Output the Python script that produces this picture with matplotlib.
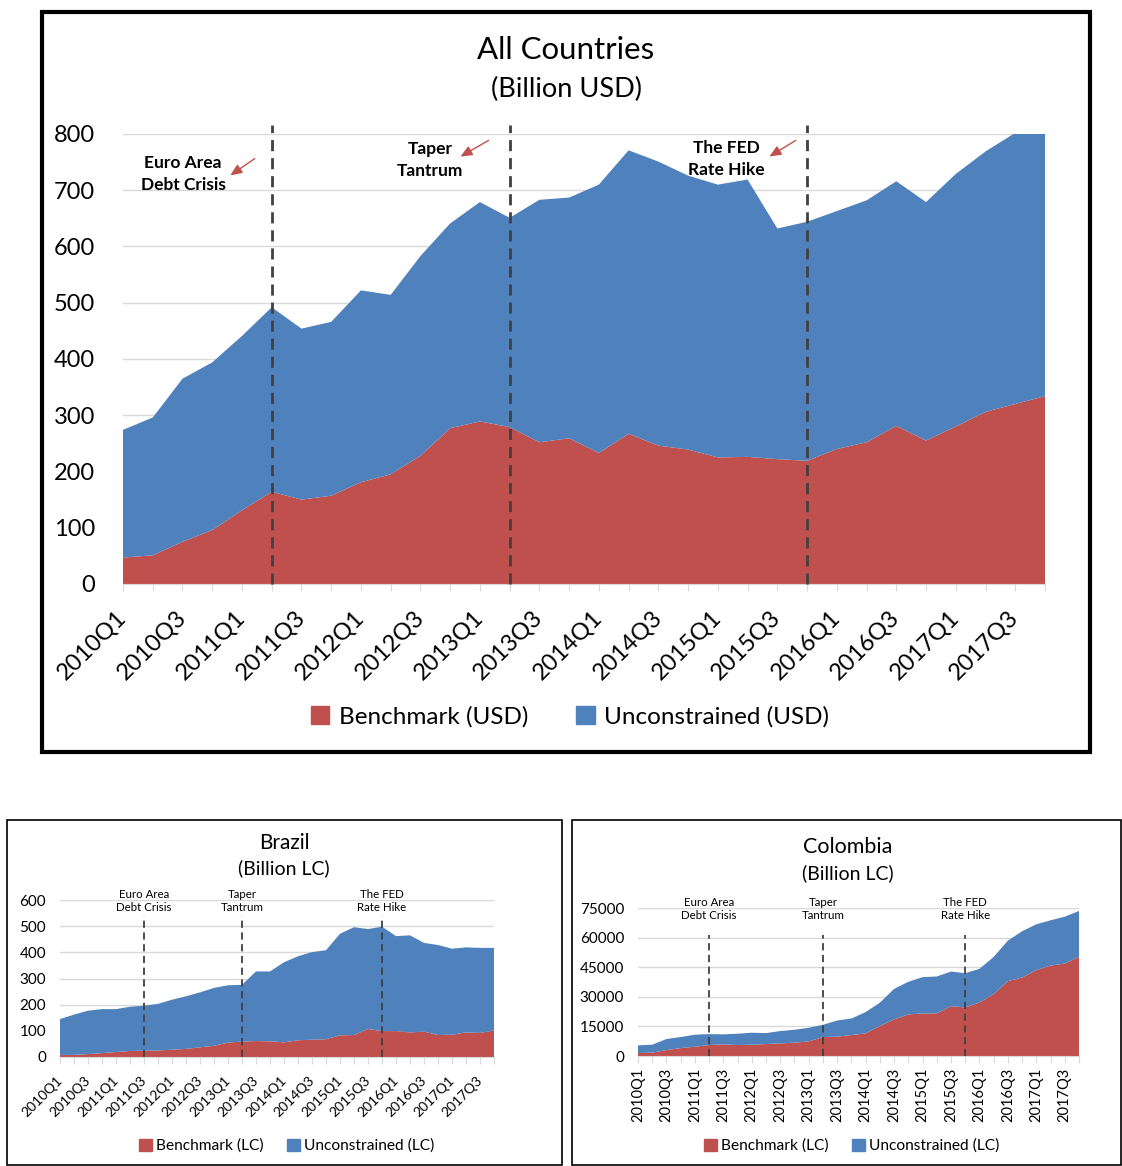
import numpy as np
import matplotlib
matplotlib.use("Agg")
import matplotlib.pyplot as plt
from matplotlib.patches import Rectangle, Patch

plt.rcParams['font.family'] = ['Lato', 'DejaVu Sans']

W, H = 1122, 1166

# quarters 2010Q1 .. 2017Q4
quarters = ['%dQ%d' % (y, q) for y in range(2010, 2018) for q in range(1, 5)]

# All countries, billion USD
all_bench = [47, 51, 75, 96, 131, 164, 150, 157, 181, 195, 228, 277, 289, 279, 252, 259,
             233, 267, 246, 239, 225, 226, 222, 219, 240, 252, 281, 255, 280, 306, 320, 334]
all_uncon = [227, 245, 290, 298, 310, 328, 304, 309, 341, 319, 355, 364, 390, 372, 431, 428,
             477, 504, 505, 487, 485, 493, 410, 425, 423, 430, 435, 424, 449, 463, 482, 481]

# Brazil, billion LC
bra_bench = [8, 8, 11, 15, 19, 23, 24, 25, 28, 31, 37, 43, 55, 59, 61, 60,
             56, 64, 66, 68, 83, 84, 107, 99, 99, 94, 97, 84, 85, 94, 92, 101]
bra_total = [145, 162, 177, 183, 183, 192, 196, 203, 219, 232, 247, 264, 274, 276, 327, 327,
             362, 385, 401, 408, 471, 496, 489, 498, 462, 465, 436, 428, 414, 419, 417, 417]
bra_uncon = [t - b for t, b in zip(bra_total, bra_bench)]

# Colombia, billion LC
col_bench = [1500, 1700, 3000, 4000, 4700, 5560, 5900, 5560, 5730, 6070, 6400, 6740, 7400, 9600, 9800, 10600,
             11460, 15170, 18540, 21070, 21570, 21570, 25280, 24600, 27130, 31350, 37920, 39780, 43480, 45840, 46850, 50220]
col_total = [5400, 5730, 8600, 9600, 10800, 11100, 10950, 11300, 11800, 11600, 12640, 13300, 14300, 15800, 18000, 19000,
             22250, 27000, 34000, 37600, 39950, 40300, 42800, 41970, 44160, 50200, 58480, 63200, 66740, 68760, 70600, 73480]
col_uncon = [t - b for t, b in zip(col_total, col_bench)]

# event markers (category index) and labels
events = ['Euro Area\nDebt Crisis', 'Taper\nTantrum', 'The FED\nRate Hike']
all_events = [5, 13, 23]
bra_events = [6, 13, 23]
col_events = [5, 13, 23]

RED = '#C0504D'
BLUE = '#4F81BD'
GRID = '#D9D9D9'

fig = plt.figure(figsize=(W / 100, H / 100), dpi=100)


def px_axes(x0, y0, x1, y1):
    return fig.add_axes([x0 / W, 1 - y1 / H, (x1 - x0) / W, (y1 - y0) / H])


def fx(x):
    return x / W


def fy(y):
    return 1 - y / H


def box(x0, y0, x1, y1, lw):
    fig.patches.append(Rectangle((fx(x0), fy(y1)), fx(x1 - x0), (y1 - y0) / H,
                                 transform=fig.transFigure, fill=False,
                                 edgecolor='black', lw=lw, zorder=0))


def area_chart(ax, bench, uncon, ymax, ystep, ytick_fs, xtick_fs, rot, ev_idx, ev_top, ev_lw, ypad):
    x = np.arange(len(quarters))
    ax.stackplot(x, bench, uncon, colors=[RED, BLUE], zorder=2)
    ax.set_xlim(0, len(quarters) - 1)
    ax.set_ylim(0, ymax)
    ax.set_yticks(np.arange(0, ymax + 1, ystep))
    ax.yaxis.grid(True, color=GRID, lw=1, zorder=0)
    ax.set_axisbelow(True)
    for s in ['top', 'right', 'left']:
        ax.spines[s].set_visible(False)
    ax.spines['bottom'].set_color(GRID)
    ax.set_xticks(x)
    ax.set_xticklabels([q if i % 2 == 0 else '' for i, q in enumerate(quarters)])
    ax.tick_params(axis='y', length=0, labelsize=ytick_fs, pad=ypad)
    ax.tick_params(axis='x', length=5, color=GRID, labelsize=xtick_fs)
    for lab in ax.get_xticklabels():
        if rot == 90:
            lab.set_rotation(90)
            lab.set_ha('center')
            lab.set_va('top')
        else:
            lab.set_rotation(45)
            lab.set_ha('right')
            lab.set_va('center')
            lab.set_rotation_mode('anchor')
    for e in ev_idx:
        ax.plot([e, e], [0, ev_top], ls=(0, (4, 2.5)), color='#404040', lw=ev_lw,
                zorder=3, clip_on=False)


# ---------------- top chart: all countries
box(42, 12, 1090, 752, 3)
ax = px_axes(123, 134, 1045, 584)
area_chart(ax, all_bench, all_uncon, 800, 100, 17, 17, 45, all_events, 816, 2, 20)
for lab in ax.get_xticklabels():
    lab.set_y(-0.04)
fig.text(fx(566), fy(50), 'All Countries', ha='center', va='center', fontsize=22.5)
fig.text(fx(566), fy(89), '(Billion USD)', ha='center', va='center', fontsize=19.5)

ann_pos = [(183, 174), (430, 160), (726, 159)]
arrows = [((257, 157), (228, 177)), ((491, 139), (458, 158)), ((798, 139), (767, 158))]
for txt, (tx, ty), (p0, p1) in zip(events, ann_pos, arrows):
    fig.text(fx(tx), fy(ty), txt, ha='center', va='center', fontsize=12.5,
             fontweight='bold', linespacing=1.4)
    ax.annotate('', xy=(p1[0], H - p1[1]), xytext=(p0[0], H - p0[1]),
                xycoords='figure pixels', textcoords='figure pixels',
                arrowprops=dict(arrowstyle='-|>,head_length=0.7,head_width=0.3',
                                color=RED, lw=1))

handles = [Patch(color=RED), Patch(color=BLUE)]
fig.legend(handles, ['Benchmark (USD)', 'Unconstrained (USD)'], loc='center',
           bbox_to_anchor=(fx(570), fy(717)), ncol=2, frameon=False, fontsize=17.5,
           handlelength=0.75, handleheight=0.75, handletextpad=0.4, columnspacing=2.0)

# ---------------- Brazil
box(7, 820, 562, 1165, 1.2)
ax = px_axes(60, 900, 494, 1057)
area_chart(ax, bra_bench, bra_uncon, 600, 100, 11, 10, 45, bra_events, 540, 1.3, 10)
for lab in ax.get_xticklabels():
    lab.set_y(-0.06)
fig.text(fx(284), fy(843), 'Brazil', ha='center', va='center', fontsize=15)
fig.text(fx(284), fy(868), '(Billion LC)', ha='center', va='center', fontsize=14)
for txt, e in zip(events, bra_events):
    fig.text(fx(60 + e * 14), fy(901), txt, ha='center', va='center', fontsize=8.3,
             linespacing=1.3)
fig.legend(handles, ['Benchmark (LC)', 'Unconstrained (LC)'], loc='center',
           bbox_to_anchor=(fx(287), fy(1146)), ncol=2, frameon=False, fontsize=11.2,
           handlelength=0.8, handleheight=0.8, handletextpad=0.3, columnspacing=1.5)

# ---------------- Colombia
box(572, 820, 1121, 1165, 1.2)
ax = px_axes(638, 908, 1079, 1056)
area_chart(ax, col_bench, col_uncon, 75000, 15000, 11, 10.5, 90, col_events, 61500, 1.3, 10)
fig.text(fx(848), fy(847), 'Colombia', ha='center', va='center', fontsize=15.5)
fig.text(fx(848), fy(873), '(Billion LC)', ha='center', va='center', fontsize=14)
for txt, e in zip(events, col_events):
    fig.text(fx(638 + e * 14.23), fy(909), txt, ha='center', va='center', fontsize=8.3,
             linespacing=1.3)
fig.legend(handles, ['Benchmark (LC)', 'Unconstrained (LC)'], loc='center',
           bbox_to_anchor=(fx(852), fy(1146)), ncol=2, frameon=False, fontsize=11.2,
           handlelength=0.8, handleheight=0.8, handletextpad=0.3, columnspacing=1.5)

fig.savefig('out.png', dpi=100)
